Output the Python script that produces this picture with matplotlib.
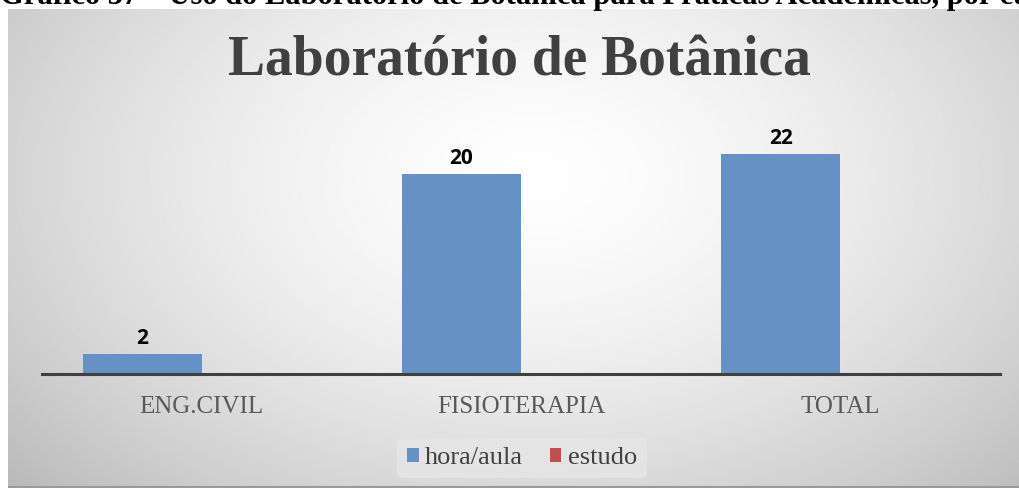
import numpy as np
import matplotlib.pyplot as plt

cursos = ["ENG.CIVIL", "FISIOTERAPIA", "TOTAL"]
hora_aula = [2, 20, 22]
estudo = [0, 0, 0]

titulo = "Laboratório de Botânica"
legenda = ["hora/aula", "estudo"]
legenda_titulo = "Gráfico 37 – Uso do Laboratório de Botânica para Práticas Acadêmicas, por curso"

W, H = 1019, 488
fig = plt.figure(figsize=(W / 100, H / 100), dpi=100)
fig.patch.set_facecolor("white")

# fundo com gradiente radial
fundo = fig.add_axes([8 / W, 0, 1 - 8 / W, 1 - 9 / H])
yy, xx = np.mgrid[0:1:300j, 0:1:600j]
r = np.sqrt(((xx - 0.52) / 0.62) ** 2 + ((yy - 0.35) / 0.85) ** 2)
grad = 0.995 - 0.22 * np.clip(r, 0, 1.3) ** 1.6
fundo.imshow(grad, cmap="gray", vmin=0, vmax=1, aspect="auto", extent=[0, 1, 1, 0])
fundo.set_axis_off()
fundo.plot([0, 1], [0.002, 0.002], color="#9a9a9a", lw=1.5, transform=fundo.transAxes)

fig.text(0.0, 1 - 4 / H, legenda_titulo, fontsize=22, fontweight="bold",
         family="Liberation Serif", color="black", va="baseline", ha="left")

ax = fig.add_axes([42 / W, (H - 374) / H, (1000 - 42) / W, 250 / H])
ax.patch.set_alpha(0)
x = np.arange(len(cursos))
w = 0.373
b1 = ax.bar(x - w / 2, hora_aula, w, color="#6591c6", label=legenda[0])
b2 = ax.bar(x + w / 2, estudo, w, color="#c0504d", label=legenda[1])
for rect, v in zip(b1, hora_aula):
    ax.text(rect.get_x() + rect.get_width() / 2, v + 0.5, str(v), ha="center", va="bottom",
            fontsize=15, fontweight="bold", family="Open Sans", color="black")

ax.set_xlim(-0.5, 2.5)
ax.set_ylim(0, 25)
ax.set_yticks([])
for s in ["top", "right", "left"]:
    ax.spines[s].set_visible(False)
ax.spines["bottom"].set_color("#404040")
ax.spines["bottom"].set_linewidth(2.2)
ax.set_xticks(x)
ax.set_xticklabels(cursos, family="Liberation Serif", fontsize=18, color="#595959")
ax.tick_params(axis="x", length=0, pad=16)

fig.text(519 / W, 1 - 62 / H, titulo, fontsize=40, fontweight="bold",
         family="Liberation Serif", color="#404040", ha="center", va="center")

leg = fig.legend(handles=[b1, b2], labels=legenda, loc="center", bbox_to_anchor=(522 / W, 1 - 458 / H),
                 ncol=2, frameon=True, prop={"family": "Liberation Serif", "size": 19},
                 handlelength=0.45, handleheight=0.45, handletextpad=0.25, columnspacing=1.0,
                 borderpad=0.35)
leg.get_frame().set_facecolor("#e6e6e6")
leg.get_frame().set_edgecolor("none")
leg.get_frame().set_alpha(0.8)
for t in leg.get_texts():
    t.set_color("#404040")

fig.savefig("out.png", dpi=100)
